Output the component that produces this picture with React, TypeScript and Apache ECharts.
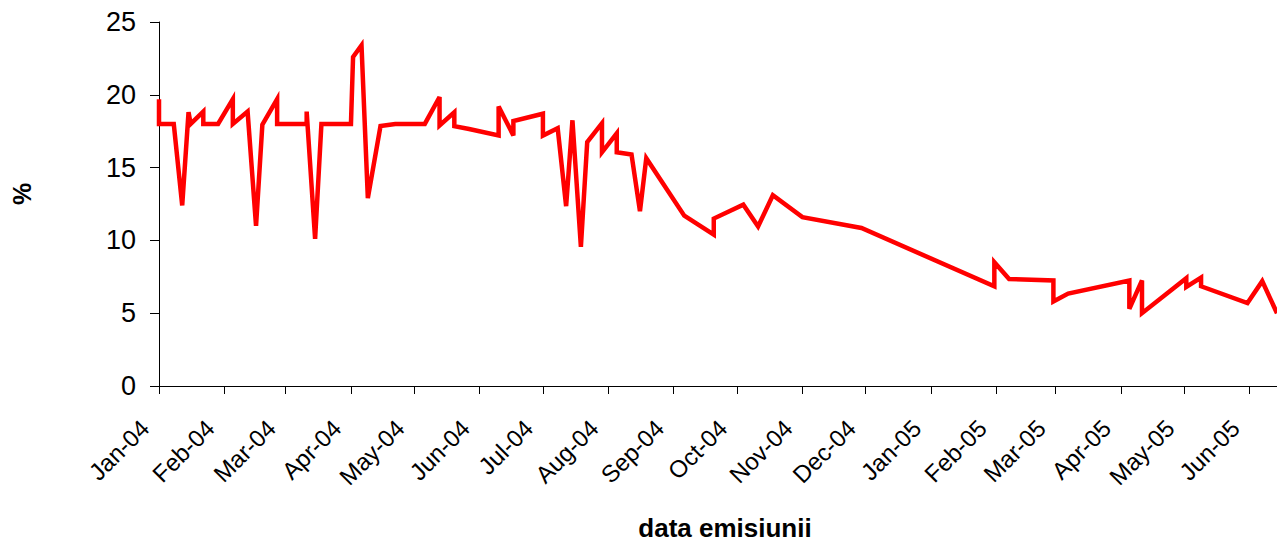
import React, { useEffect, useRef } from "react";
import * as echarts from "echarts";

const DATES: string[] = [
  "2004-01-01", "2004-01-01", "2004-01-08", "2004-01-12", "2004-01-15", "2004-01-16",
  "2004-01-22", "2004-01-22", "2004-01-29", "2004-02-05", "2004-02-05", "2004-02-12",
  "2004-02-16", "2004-02-19", "2004-02-26", "2004-02-26", "2004-03-11", "2004-03-11",
  "2004-03-15", "2004-03-18", "2004-04-01", "2004-04-02", "2004-04-06", "2004-04-09",
  "2004-04-15", "2004-04-22", "2004-05-06", "2004-05-13", "2004-05-13", "2004-05-20",
  "2004-05-20", "2004-05-27", "2004-06-10", "2004-06-10", "2004-06-17", "2004-06-17",
  "2004-07-01", "2004-07-01", "2004-07-08", "2004-07-12", "2004-07-15", "2004-07-19",
  "2004-07-22", "2004-07-29", "2004-07-29", "2004-08-05", "2004-08-05", "2004-08-12",
  "2004-08-16", "2004-08-19", "2004-09-06", "2004-09-20", "2004-09-20", "2004-10-04",
  "2004-10-11", "2004-10-18", "2004-11-01", "2004-11-29", "2005-01-31", "2005-01-31",
  "2005-02-07", "2005-02-28", "2005-02-28", "2005-03-07", "2005-04-05", "2005-04-05",
  "2005-04-11", "2005-04-11", "2005-05-02", "2005-05-02", "2005-05-09", "2005-05-09",
  "2005-05-31", "2005-06-07", "2005-06-14",
];

const RATES: number[] = [
  19.7, 18.0, 18.0, 12.4, 18.8, 18.0,
  18.85, 18.0, 18.0, 19.7, 18.0, 18.85,
  11.0, 17.95, 19.7, 18.0, 18.0, 18.85,
  10.1, 18.0, 18.0, 22.6, 23.4, 12.9,
  17.85, 18.0, 18.0, 19.85, 17.9, 18.8,
  17.85, 17.65, 17.2, 19.2, 17.2, 18.2,
  18.7, 17.2, 17.7, 12.35, 18.25, 9.55,
  16.75, 18.05, 16.05, 17.35, 16.05, 15.9,
  12.0, 15.65, 11.7, 10.4, 11.5, 12.45,
  10.95, 13.1, 11.6, 10.85, 6.85, 8.5,
  7.35, 7.25, 5.8, 6.35, 7.25, 5.3,
  7.25, 5.0, 7.4, 6.8, 7.45, 6.85,
  5.7, 7.2, 5.0,
];

const MONTH_TICKS: string[] = [
  "2004-01-01", "2004-02-01", "2004-03-01", "2004-04-01", "2004-05-01", "2004-06-01",
  "2004-07-01", "2004-08-01", "2004-09-01", "2004-10-01", "2004-11-01", "2004-12-01",
  "2005-01-01", "2005-02-01", "2005-03-01", "2005-04-01", "2005-05-01", "2005-06-01",
];

const MONTH_LABELS: string[] = [
  "Jan-04", "Feb-04", "Mar-04", "Apr-04", "May-04", "Jun-04",
  "Jul-04", "Aug-04", "Sep-04", "Oct-04", "Nov-04", "Dec-04",
  "Jan-05", "Feb-05", "Mar-05", "Apr-05", "May-05", "Jun-05",
];

const X_MIN = "2004-01-01";
const X_MAX = "2005-06-14";
const Y_TICKS: number[] = [0, 5, 10, 15, 20, 25];

// day number (since X_MIN) of a YYYY-MM-DD string, computed in UTC to avoid DST effects
const dayOf = (s: string): number => {
  const [y, m, d] = s.split("-").map(Number);
  const [y0, m0, d0] = X_MIN.split("-").map(Number);
  return Math.round((Date.UTC(y, m - 1, d) - Date.UTC(y0, m0 - 1, d0)) / 86400000);
};

const FONT = 'Arial, "Liberation Sans", sans-serif';

export default function App() {
  const ref = useRef<HTMLDivElement>(null);

  useEffect(() => {
    if (!ref.current) return;
    const chart = echarts.init(ref.current, null, { renderer: "svg" });
    const tickDays = MONTH_TICKS.map(dayOf);
    const labelFor = (v: number) => {
      const i = tickDays.indexOf(Math.round(v));
      return i >= 0 ? MONTH_LABELS[i] : "";
    };
    chart.setOption({
      animation: false,
      backgroundColor: "#ffffff",
      grid: {
        left: 159,
        right: 0,
        top: 22,
        bottom: 156,
        containLabel: false,
        outerBoundsMode: "none",
      },
      xAxis: {
        type: "value",
        min: dayOf(X_MIN),
        max: dayOf(X_MAX),
        name: "data emisiunii",
        nameLocation: "middle",
        nameGap: 129,
        nameMoveOverlap: false,
        nameTextStyle: {
          fontSize: 26,
          fontWeight: "bold",
          color: "#000",
          fontFamily: FONT,
          padding: [0, 0, 0, 14],
        },
        axisLine: { show: true, onZero: false, lineStyle: { color: "#000", width: 1 } },
        axisTick: {
          show: true,
          inside: false,
          length: 8,
          customValues: tickDays,
          lineStyle: { color: "#000", width: 1 },
        },
        axisLabel: {
          show: true,
          customValues: tickDays,
          formatter: (v: number) => labelFor(v),
          rotate: 45,
          margin: 24,
          padding: [0, 20, 0, 0],
          fontSize: 24,
          color: "#000",
          fontFamily: FONT,
          hideOverlap: false,
        },
        splitLine: { show: false },
      },
      yAxis: {
        type: "value",
        min: Y_TICKS[0],
        max: Y_TICKS[Y_TICKS.length - 1],
        interval: 5,
        name: "%",
        nameLocation: "middle",
        nameGap: 125,
        nameRotate: 90,
        nameMoveOverlap: false,
        nameTextStyle: {
          fontSize: 25,
          fontWeight: "bold",
          color: "#000",
          fontFamily: FONT,
          padding: [0, 0, 0, 20],
        },
        axisLine: { show: true, lineStyle: { color: "#000", width: 1 } },
        axisTick: { show: true, inside: false, length: 9, lineStyle: { color: "#000", width: 1 } },
        axisLabel: { fontSize: 27, color: "#000", margin: 23, fontFamily: FONT },
        splitLine: { show: false },
      },
      series: [
        {
          type: "line",
          data: DATES.map((d, i) => [dayOf(d), RATES[i]]),
          symbol: "none",
          showSymbol: false,
          smooth: false,
          clip: true,
          lineStyle: { color: "#ff0000", width: 4.5, join: "miter", miterLimit: 4 },
          itemStyle: { color: "#ff0000" },
        },
      ],
    });
    return () => chart.dispose();
  }, []);

  return (
    <div
      ref={ref}
      style={{ position: "fixed", left: 0, top: 0, width: 1277, height: 542, background: "#fff" }}
    />
  );
}
